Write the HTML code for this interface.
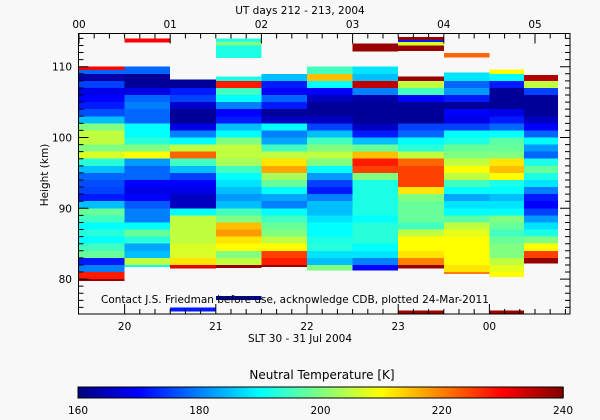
<!DOCTYPE html>
<html><head><meta charset="utf-8"><style>
body{margin:0;background:#f8f8f8;}
svg{display:block;font-family:"DejaVu Sans","Liberation Sans",sans-serif;}
text{font-size:10.5px;fill:#000;}
</style></head><body>
<svg id="chart" width="600" height="420" viewBox="0 0 600 420" xmlns="http://www.w3.org/2000/svg">
<rect x="0" y="0" width="600" height="420" fill="#f8f8f8"/>
<g id="cells" shape-rendering="crispEdges"></g>
<g id="axes"></g>
<g id="cbar"></g>
<text x="300" y="14" text-anchor="middle">UT days 212 - 213, 2004</text>
<text x="300" y="342" text-anchor="middle">SLT 30 - 31 Jul 2004</text>
<text x="48" y="175" text-anchor="middle" transform="rotate(-90 48 175)">Height (km)</text>
<text x="101" y="303">Contact J.S. Friedman before use, acknowledge CDB, plotted 24-Mar-2011</text>
<text x="322" y="379" text-anchor="middle" style="font-size:12px">Neutral Temperature [K]</text>
</svg>
<script>
// ---- data ----
const colStart = [0,0.5,1.0,1.5,2.0,2.5,3.0,3.5,4.0,4.5,4.88];
const colEnd   = [0.5,1.0,1.5,2.0,2.5,3.0,3.5,4.0,4.5,4.88,5.25];
const colTop   = [110,110,108.2,108.6,109,110,110,108.6,109.2,109.6,108.8];
const colBottom= [79.7,81.7,81.5,81.6,81.7,81.2,81.2,81.5,80.7,80.3,82.2];
const col1 = [178,163,175,168,170,172,176,185,200,205,205,200,207,193,185,178,176,175,172,185,198,195,190,193,190,195,198,172,180,228,238];
const col2 = [178,162,162,168,178,180,178,178,190,190,193,200,210,182,178,178,170,168,170,177,180,180,190,198,193,183,185,205,190];
const col3 = [162,162,172,175,166,162,162,168,180,190,205,222,195,185,175,170,168,165,165,190,205,205,205,205,207,207,212,232];
const col4 = [192,228,195,190,180,170,172,185,190,200,205,205,203,195,190,188,185,182,185,195,200,215,218,212,210,200,205,238];
const col5 = [185,172,170,178,172,162,165,190,180,183,195,205,212,217,203,198,190,183,180,190,195,198,200,205,210,225,228,238];
const col6 = [195,215,190,170,165,162,162,165,175,185,195,200,205,200,190,182,175,172,180,185,185,188,190,190,192,193,188,185,200];
const col7 = [188,185,235,180,163,162,162,162,165,172,185,198,215,228,225,200,192,192,192,192,192,190,193,193,193,190,188,180,170];
const col8 = [238,205,195,170,162,162,162,175,178,190,193,205,222,225,225,225,212,200,198,198,198,195,205,210,210,212,220,238];
const col9 = [188,188,178,182,172,162,170,168,175,190,192,198,200,205,210,205,195,190,183,188,190,197,205,208,210,210,210,210,212,220];
const col10= [210,190,172,162,162,162,168,172,178,190,197,198,200,212,215,210,192,190,185,188,190,200,198,195,198,200,200,205,208,210];
const col11= [236,205,175,162,162,162,165,170,178,190,182,178,192,198,192,188,180,172,170,175,182,188,192,200,210,225,238];
const columns = [col1,col2,col3,col4,col5,col6,col7,col8,col9,col10,col11];
const extraT0 = [0,0.5,1.5,1.5,1.5,3.0,3.5,3.5,3.5,3.5,4.0,1.5,1.0,3.5,4.5];
const extraT1 = [0.5,1.0,2.0,2.0,2.0,3.5,4.0,4.0,4.0,4.0,4.5,2.0,1.5,4.0,4.88];
const extraH0 = [109.6,113.5,113.5,113.0,111.3,112.2,113.8,113.5,113.0,112.3,111.4,77.1,75.5,75.2,75.2];
const extraH1 = [110,114.0,114.0,113.5,113.0,113.3,114.2,113.8,113.5,113.0,111.9,77.6,76.0,75.6,75.6];
const extraVal= [230,230,193,200,192,238,238,172,207,238,222,162,172,238,238];
const yTicks = [80,90,100,110];
const utTicks = ["00","01","02","03","04","05"];
const sltTicks = ["20","21","22","23","00"];
const cbTicks = [160,180,200,220,240];

// ---- scales ----
const X = t => 79 + t*91.2;
const Y = h => 137.5 - (h-100)*7.08;
const PL=78.5, PR=570, PT=33.5, PB=314;
const stops=[[0,[0,0,128]],[0.125,[0,0,255]],[0.375,[0,255,255]],[0.5,[128,255,128]],[0.625,[255,255,0]],[0.875,[255,0,0]],[1,[128,0,0]]];
function color(v){
  let f=Math.max(0,Math.min(1,(v-160)/80));
  for(let i=1;i<stops.length;i++){
    if(f<=stops[i][0]){
      const a=stops[i-1],b=stops[i],u=(f-a[0])/(b[0]-a[0]);
      const c=a[1].map((x,k)=>Math.round(x+(b[1][k]-x)*u));
      return `rgb(${c[0]},${c[1]},${c[2]})`;
    }
  }
  return 'rgb(128,0,0)';
}
const NS='http://www.w3.org/2000/svg';
function mk(tag,attrs,parent){const e=document.createElementNS(NS,tag);for(const k in attrs)e.setAttribute(k,attrs[k]);parent.appendChild(e);return e;}
const cells=document.getElementById('cells');
columns.forEach((vals,ci)=>{
  const top=Math.ceil(colTop[ci]);
  vals.forEach((v,i)=>{
    let h1=Math.min(colTop[ci],top-i), h0=Math.max(colBottom[ci],top-i-1);
    if(h1<=h0) return;
    const last = (h0===colBottom[ci]);
    const r=mk('rect',{x:X(colStart[ci]),y:Y(h1),width:X(colEnd[ci])-X(colStart[ci]),height:Y(h0)-Y(h1)+(last?0:1.2),fill:color(v)},cells);
    
    
  });
});
extraVal.forEach((v,i)=>{
  const r=mk('rect',{x:X(extraT0[i]),y:Y(extraH1[i]),width:X(extraT1[i])-X(extraT0[i]),height:Y(extraH0[i])-Y(extraH1[i])+0.6,fill:color(v)},cells);
  
  
});
// ---- axes ----
const ax=document.getElementById('axes');
const frame=mk('rect',{x:PL,y:PT,width:PR-PL,height:PB-PT,fill:'none',stroke:'#000','stroke-width':1},ax);


let d='';
for(let h=76;h<=114;h++){
  const y=Y(h), L=(h%10===0)?10:5;
  d+=`M${PL} ${y}h${L}M${PR} ${y}h${-L}`;
}
for(let m=0;m<=33;m++){
  const t=m/6, x=X(t); if(x>PR) break;
  const L=(m%6===0)?10:5;
  d+=`M${x} ${PT}v${L}`;
  const ts=t+0.5, xs=X(ts);
  if(xs<=PR){ d+=`M${xs} ${PB}v${-((m%6===0)?10:5)}`;}
}
const tk=mk('path',{d:d,stroke:'#000','stroke-width':1,fill:'none'},ax);


yTicks.forEach(h=>{
  const t=mk('text',{x:72,y:Y(h)+4,'text-anchor':'end'},ax); t.textContent=h;
  
  
});
utTicks.forEach((s,i)=>{
  const t=mk('text',{x:X(i),y:28,'text-anchor':'middle'},ax); t.textContent=s;
  
  
});
sltTicks.forEach((s,i)=>{
  const t=mk('text',{x:X(i+0.5),y:330,'text-anchor':'middle'},ax); t.textContent=s;
  
  
});
// ---- colorbar ----
const cb=document.getElementById('cbar');
const CL=78, CR=563, CT=387, CB=398;
for(let i=0;i<160;i++){
  const v=160+80*(i+0.5)/160;
  const r=mk('rect',{x:CL+(CR-CL)*i/160,y:CT,width:(CR-CL)/160+0.8,height:CB-CT,fill:color(v)},cb);
  
  
}
const cf=mk('rect',{x:CL,y:CT,width:CR-CL,height:CB-CT,fill:'none',stroke:'#000'},cb);


cbTicks.forEach(v=>{
  const x=CL+(CR-CL)*(v-160)/80;
  const t=mk('text',{x:x,y:414,'text-anchor':'middle'},cb); t.textContent=v;
  
  
});
</script>
</body></html>
